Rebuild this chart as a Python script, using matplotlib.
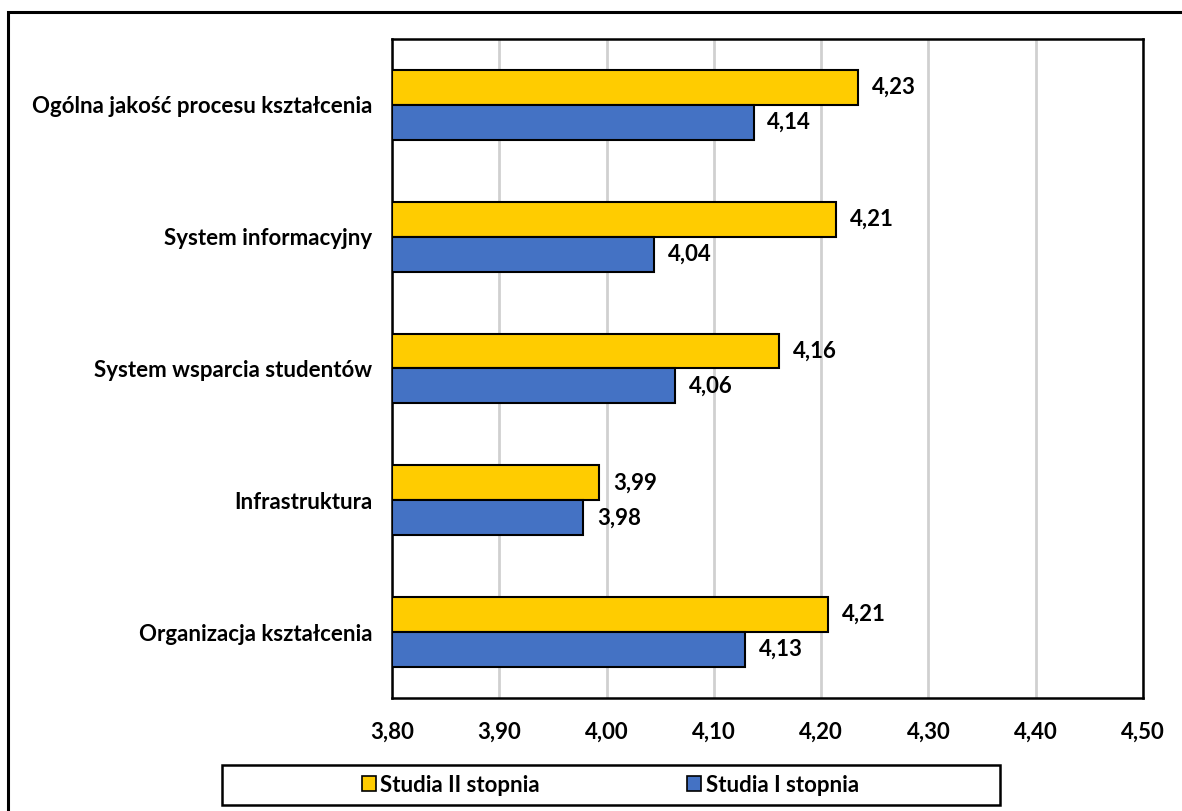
import matplotlib
matplotlib.use("Agg")
import matplotlib.pyplot as plt
from matplotlib.patches import Rectangle, Patch
import numpy as np

plt.rcParams['font.family'] = ['Lato', 'DejaVu Sans']
plt.rcParams['font.weight'] = 'bold'

# data (top to bottom as in the picture)
categories = ["Ogólna jakość procesu kształcenia", "System informacyjny",
              "System wsparcia studentów", "Infrastruktura", "Organizacja kształcenia"]
studia_ii = [4.234, 4.214, 4.161, 3.993, 4.206]
studia_i = [4.137, 4.044, 4.064, 3.978, 4.129]
series_names = ["Studia II stopnia", "Studia I stopnia"]
xticks = [3.80, 3.90, 4.00, 4.10, 4.20, 4.30, 4.40, 4.50]

yellow = "#ffcc00"
blue = "#4472c4"
fs = 16

fig = plt.figure(figsize=(11.82, 8.11), dpi=100)
ax = fig.add_axes([392 / 1182, 1 - 698 / 811, (1143 - 392) / 1182, (698 - 39) / 811])

y = np.arange(len(categories))[::-1]
h = 0.265
ax.barh(y + h / 2, np.array(studia_ii) - 3.8, left=3.8, height=h, color=yellow,
        edgecolor="black", linewidth=1.5, zorder=3)
ax.barh(y - h / 2, np.array(studia_i) - 3.8, left=3.8, height=h, color=blue,
        edgecolor="black", linewidth=1.5, zorder=3)

for yy, v in zip(y + h / 2, studia_ii):
    ax.annotate(f"{v:.2f}".replace(".", ","), (v, yy), xytext=(10, 0),
                textcoords="offset points", va="center", ha="left", fontsize=fs, fontweight="bold")
for yy, v in zip(y - h / 2, studia_i):
    ax.annotate(f"{v:.2f}".replace(".", ","), (v, yy), xytext=(10, 0),
                textcoords="offset points", va="center", ha="left", fontsize=fs, fontweight="bold")

ax.set_xlim(3.8, 4.5)
ax.set_ylim(-0.5, len(categories) - 0.5)
ax.set_xticks(xticks)
ax.set_xticklabels([f"{t:.2f}".replace(".", ",") for t in xticks], fontsize=fs, fontweight="bold")
ax.set_yticks(y)
ax.set_yticklabels(categories, fontsize=fs, fontweight="bold")
ax.tick_params(length=0, pad=14)
ax.tick_params(axis="x", pad=17)
ax.grid(axis="x", color="#d0d0d0", linewidth=2, zorder=0)
ax.set_axisbelow(True)
for s in ax.spines.values():
    s.set_linewidth(1.8)
    s.set_color("black")

# legend box
fig.patches.append(Rectangle((222 / 1182, 1 - 805 / 811), (1000 - 222) / 1182, 40 / 811,
                             transform=fig.transFigure, fill=False, edgecolor="black",
                             linewidth=1.8))
handles = [Patch(facecolor=yellow, edgecolor="black", linewidth=1.2),
           Patch(facecolor=blue, edgecolor="black", linewidth=1.2)]
leg = fig.legend(handles, series_names, ncol=2, loc="center left",
                 bbox_to_anchor=(346 / 1182, 1 - 785 / 811), frameon=False,
                 prop={"size": fs, "weight": "bold"}, handlelength=0.65, handleheight=0.65,
                 handletextpad=0.2, borderpad=0.2, columnspacing=6.6)

# outer frame
fig.patches.append(Rectangle((8 / 1182, -0.01), 1.02, 1 - 12 / 811 + 0.01,
                             transform=fig.transFigure, fill=False, edgecolor="black",
                             linewidth=2.2))

fig.savefig("out.png", dpi=100)
